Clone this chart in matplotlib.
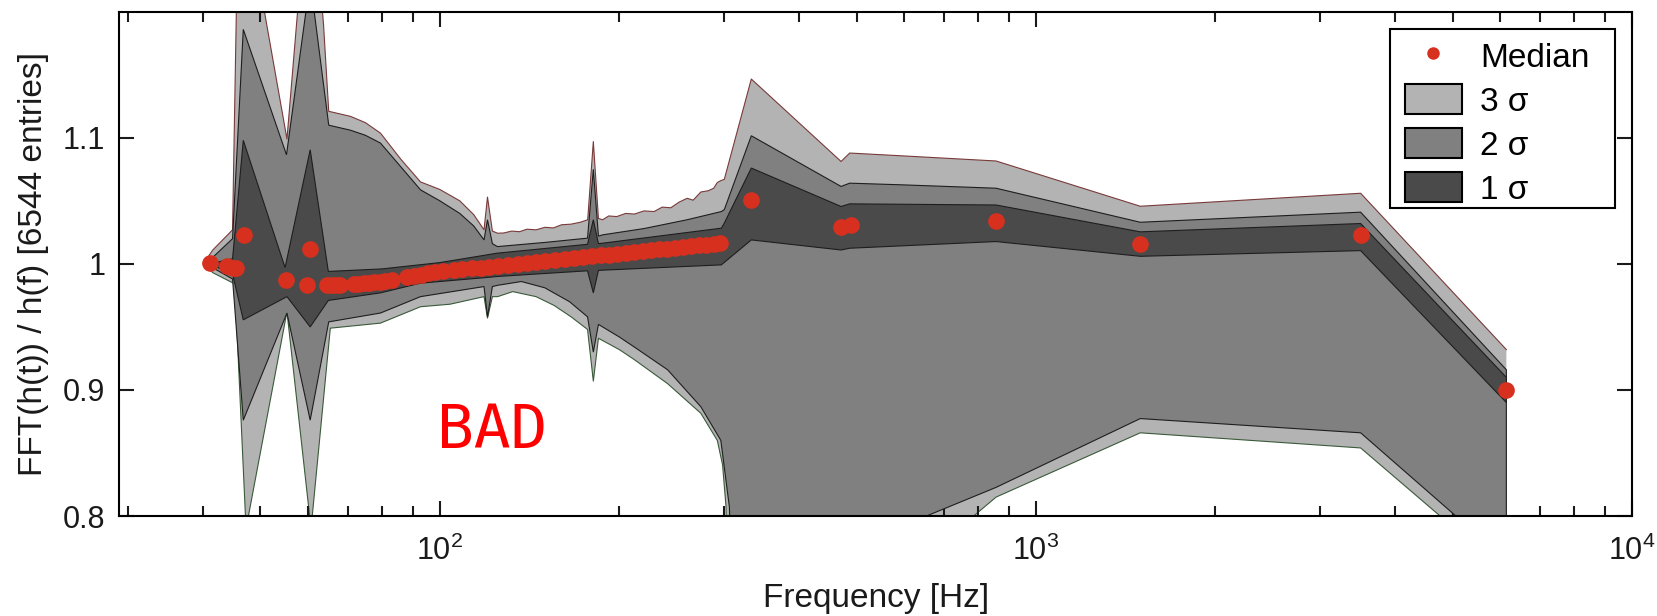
import numpy as np
import matplotlib
matplotlib.use('Agg')
import matplotlib.pyplot as plt
from matplotlib.patches import Patch, Rectangle
from matplotlib.lines import Line2D
from matplotlib.ticker import FuncFormatter, LogLocator, NullFormatter, NullLocator

plt.rcParams['font.family'] = ['Liberation Sans', 'DejaVu Sans']
plt.rcParams['mathtext.fontset'] = 'custom'
plt.rcParams['mathtext.rm'] = 'Liberation Sans'

# median points (frequency in Hz, ratio)
med_f = [41.2, 43.9, 45.0, 45.5, 47.0, 55.3, 59.8, 60.6, 64.7, 66.0, 67.0, 68.1,
         71.7, 73.0, 74.5, 76.0, 77.5, 79.3, 81.0, 83.0,
         88.1, 90.5, 93.0, 95.5, 98.0, 101.4,
         105.5, 109, 113, 117, 121, 125, 130, 135, 140, 145, 150, 156, 162, 168,
         174, 180, 186, 192, 198, 205, 212, 219, 226, 233, 240, 248, 256, 264,
         272, 280, 288, 295,
         333, 471, 490, 857, 1496, 3504, 6152]
med_v = [1.0006, 0.998, 0.997, 0.9965, 1.023, 0.987, 0.983, 1.0115, 0.983, 0.983, 0.9835, 0.983,
         0.984, 0.9843, 0.9848, 0.985, 0.9855, 0.986, 0.9865, 0.987,
         0.9897, 0.9905, 0.991, 0.9925, 0.9935, 0.9944,
         0.9949, 0.9956, 0.9964, 0.9971, 0.9978, 0.9984, 0.9993, 1.0000, 1.0008, 1.0015, 1.0022, 1.0030, 1.0038, 1.0046,
         1.0053, 1.0060, 1.0067, 1.0074, 1.0080, 1.0087, 1.0094, 1.0101, 1.0107, 1.0114, 1.0120, 1.0127, 1.0133, 1.0140,
         1.0146, 1.0152, 1.0158, 1.0163,
         1.0508, 1.0296, 1.031, 1.034, 1.0155, 1.023, 0.8998]

# 3 sigma band
up3_f = [40.1, 41.6, 44.9, 45.6, 47.0, 55.4, 60.6, 63.8, 65.1, 70.8, 75, 79.5, 86, 92.8, 100, 108, 114,
         118.6, 120.2, 122.5, 125, 128, 132, 136, 140, 145, 150, 155, 160, 166, 172, 177,
         180.9, 184.5, 187.5, 192, 198, 205, 212, 220, 228.8, 236, 244, 252, 260, 266, 274, 282, 288,
         292, 296, 300, 333, 471, 487, 595, 857, 1496, 3504, 6152]
up3_v = [1.000, 1.011, 1.027, 1.21, 1.29, 1.099, 1.32, 1.19, 1.121, 1.117, 1.112, 1.1037, 1.083, 1.065, 1.059, 1.050, 1.039,
         1.027, 1.053, 1.026, 1.0243, 1.0245, 1.026, 1.0255, 1.0275, 1.027, 1.029, 1.0285, 1.031, 1.0315, 1.033, 1.035,
         1.097, 1.036, 1.035, 1.038, 1.0375, 1.040, 1.0395, 1.042, 1.0415, 1.045, 1.0445, 1.049, 1.052, 1.0505, 1.057, 1.058, 1.060,
         1.0645, 1.066, 1.067, 1.1466, 1.0812, 1.0879, 1.0857, 1.0816, 1.0457, 1.056, 0.932]
lo3_f = [40.1, 41.6, 44.9, 45.3, 47.3, 55.4, 60.8, 65.5, 79.5, 92.8, 104, 118.6, 120.2, 122.5, 125, 132.5,
         145, 155.5, 166, 176.9, 180.9, 184.5, 200, 212, 241, 274, 292, 298, 302, 306, 333, 487, 857, 1496, 3504, 6152]
lo3_v = [1.000, 0.993, 0.985, 0.984, 0.79, 0.962, 0.79, 0.949, 0.953, 0.966, 0.968, 0.974, 0.957, 0.974, 0.974, 0.978,
         0.974, 0.967, 0.958, 0.948, 0.907, 0.941, 0.932, 0.924, 0.905, 0.8815, 0.860, 0.8407, 0.8074, 0.60, 0.64, 0.717,
         0.815, 0.866, 0.854, 0.755]

# 2 sigma band
up2_f = [40.5, 44.9, 46.8, 55.3, 60.6, 65.1, 70.8, 75, 79.5, 86, 92.8, 100, 108, 114, 118.6, 120.2, 122.5,
         124.9, 150, 176.9, 180.9, 184.5, 187.5, 220, 260, 296.6, 300, 333, 471, 487, 595, 857, 1496, 3504, 6152]
up2_v = [1.000, 1.020, 1.186, 1.0865, 1.225, 1.110, 1.106, 1.102, 1.0958, 1.077, 1.0587, 1.050, 1.040, 1.030, 1.019, 1.035, 1.016,
         1.0137, 1.017, 1.0204, 1.075, 1.022, 1.023, 1.028, 1.035, 1.0415, 1.043, 1.1016, 1.0614, 1.064, 1.0627, 1.060, 1.033, 1.041, 0.916]
lo2_f = [40.5, 44.9, 46.8, 55.4, 60.6, 65.1, 79.5, 92.8, 118.6, 120.2, 122.5, 125, 137, 150, 165, 176.9,
         180.9, 184.5, 200, 212, 241, 274, 296, 306, 312, 333, 487, 857, 1496, 3504, 6152]
lo2_v = [1.000, 0.988, 0.876, 0.961, 0.876, 0.954, 0.961, 0.974, 0.982, 0.958, 0.982, 0.983, 0.986, 0.981, 0.970, 0.958,
         0.930, 0.952, 0.942, 0.934, 0.916, 0.8867, 0.860, 0.807, 0.65, 0.70, 0.775, 0.8227, 0.8773, 0.866, 0.765]

# 1 sigma band
up1_f = [41.0, 44.9, 46.8, 55.0, 60.6, 65.0, 80, 100, 124.9, 176.9, 180.9, 184.5, 187.5, 296.6, 300,
         333, 471, 487, 857, 1496, 3504, 6152]
up1_v = [1.000, 1.004, 1.098, 0.997, 1.0905, 0.994, 0.996, 1.001, 1.0085, 1.0155, 1.035, 1.016, 1.0164, 1.0283, 1.0323,
         1.076, 1.0455, 1.0476, 1.0467, 1.0254, 1.032, 0.910]
lo1_f = [41.0, 44.9, 46.8, 55.4, 60.6, 65.0, 79.5, 92.8, 118.6, 124.9, 176.9, 180.9, 184.5, 187.5, 296.6,
         333, 471, 487, 857, 1496, 3504, 6152]
lo1_v = [1.000, 0.992, 0.9556, 0.974, 0.950, 0.971, 0.977, 0.9847, 0.989, 0.990, 0.9945, 0.977, 0.9948, 0.995, 0.9992,
         1.019, 1.011, 1.0124, 1.0177, 1.006, 1.0105, 0.890]

c3 = '#b3b3b3'
c2 = '#808080'
c1 = '#4a4a4a'
red = '#d7301f'


def band(fu, vu, fl, vl):
    x = np.concatenate([np.array(fu, float), np.array(fl, float)[::-1]])
    y = np.concatenate([np.array(vu, float), np.array(vl, float)[::-1]])
    return x, y


fig = plt.figure(figsize=(16.58, 6.16), dpi=100)
ax = fig.add_axes([0.072, 0.1623, 0.9124, 0.8187])
ax.set_xscale('log')

x, y = band(up3_f, up3_v, lo3_f, lo3_v)
ax.fill(x, y, facecolor=c3, edgecolor='none', zorder=1)
ax.plot(up3_f, up3_v, color='#7a3a3a', lw=0.8, zorder=1.5)
ax.plot(lo3_f, lo3_v, color='#3a5a3a', lw=0.8, zorder=1.5)
x, y = band(up2_f, up2_v, lo2_f, lo2_v)
ax.fill(x, y, facecolor=c2, edgecolor='#1e1e1e', lw=0.8, zorder=2)
x, y = band(up1_f, up1_v, lo1_f, lo1_v)
ax.fill(x, y, facecolor=c1, edgecolor='#1e1e1e', lw=0.8, zorder=3)

ax.plot(med_f, med_v, 'o', color=red, ms=12, mec='none', zorder=5)

ax.set_xlim(29, 1e4)
ax.set_ylim(0.8, 1.2)
ax.set_yticks([0.8, 0.9, 1.0, 1.1])
ax.set_yticklabels(['0.8', '0.9', '1', '1.1'])
ax.yaxis.set_minor_locator(NullLocator())
ax.xaxis.set_major_locator(LogLocator(base=10))
ax.xaxis.set_major_formatter(FuncFormatter(lambda v, p: r'$\mathregular{10^{%d}}$' % round(np.log10(v))))
ax.xaxis.set_minor_locator(LogLocator(base=10, subs=range(2, 10)))
ax.xaxis.set_minor_formatter(NullFormatter())
ax.tick_params(which='both', direction='in', top=True, right=True, width=1.5,
               labelsize=22, colors='#1a1a1a')
ax.tick_params(which='major', length=11, pad=10)
ax.tick_params(axis='x', which='major', pad=14)
ax.tick_params(which='minor', length=7)
for s in ax.spines.values():
    s.set_linewidth(1.5)

ax.set_xlabel('Frequency [Hz]', fontsize=24, labelpad=12, color='#1a1a1a')
ax.set_ylabel('FFT(h(t)) / h(f) [6544 entries]', fontsize=24, labelpad=10, color='#1a1a1a')

# legend: frame drawn as its own box, entries placed inside it
frame = Rectangle((0.840, 0.6107), 0.1487, 0.355, transform=ax.transAxes, facecolor='white',
                  edgecolor='black', lw=1.5, zorder=6)
ax.add_patch(frame)
handles = [Line2D([], [], marker='o', ls='none', color=red, ms=9, mec='none', label='Median'),
           Patch(facecolor=c3, edgecolor='black', lw=1.5, label='3 σ'),
           Patch(facecolor=c2, edgecolor='black', lw=1.5, label='2 σ'),
           Patch(facecolor=c1, edgecolor='black', lw=1.5, label='1 σ')]
leg = ax.legend(handles=handles, loc='upper left', bbox_to_anchor=(0.8447, 0.9578), borderaxespad=0,
                fontsize=24, frameon=False, handlelength=1.71, handleheight=1.0, handletextpad=0.55,
                labelspacing=0.32, borderpad=0.22)
leg.set_zorder(7)

fig.text(437 / 1658, 1 - 448 / 616, 'BAD', color='red', fontsize=44, family='DejaVu Sans Mono',
         ha='left', va='baseline')

fig.savefig('out.png', dpi=100)
